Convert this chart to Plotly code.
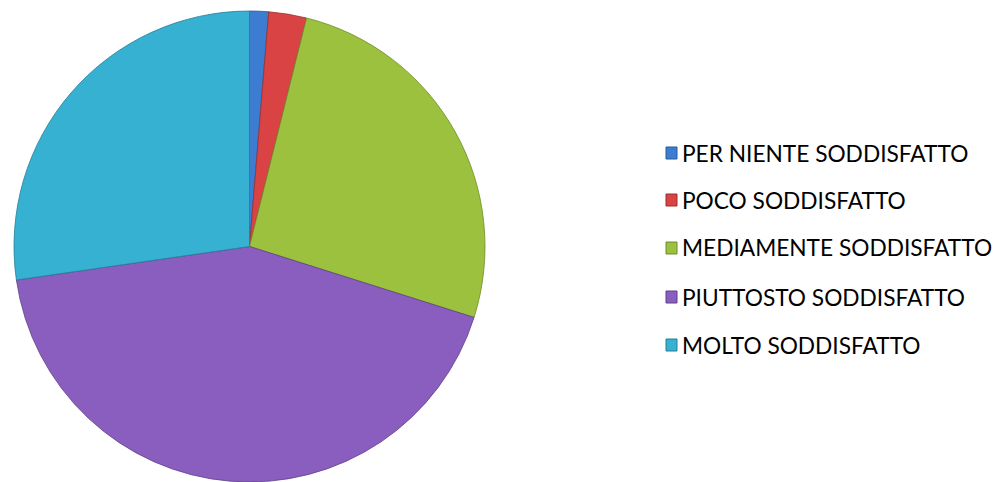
import plotly.graph_objects as go

labels = ["PER NIENTE SODDISFATTO", "POCO SODDISFATTO", "MEDIAMENTE SODDISFATTO",
          "PIUTTOSTO SODDISFATTO", "MOLTO SODDISFATTO"]
values = [1, 2, 20, 33, 21]
colors = ["#3C7DD1", "#D94343", "#9CC13F", "#8A5EBE", "#37B1D1"]
edge_colors = ["#2A5A9A", "#9A2E2E", "#6E8C2A", "#5E3F88", "#237E96"]

W, H = 999, 482
cx, r = 249.5, 236

fig = go.Figure()
fig.add_trace(go.Pie(
    labels=labels, values=values, sort=False, direction="clockwise", rotation=0,
    marker=dict(colors=colors, line=dict(color=edge_colors, width=0.8)),
    textinfo="none", hoverinfo="label+value+percent", showlegend=False,
    domain=dict(x=[(cx - r) / W, (cx + r) / W], y=[0, 1 - 11 / H]),
))

# custom legend
rows_y = [153, 200, 248, 297, 345]
shapes = []
annotations = []
for lab, col, ec, yc in zip(labels, colors, edge_colors, rows_y):
    shapes.append(dict(type="rect", xref="paper", yref="paper",
                       x0=666 / W, x1=677 / W, y0=1 - (yc + 6) / H, y1=1 - (yc - 6) / H,
                       fillcolor=col, line=dict(color=ec, width=1)))
    annotations.append(dict(text=lab, xref="paper", yref="paper", x=680 / W, y=1 - yc / H,
                            xanchor="left", yanchor="middle", showarrow=False,
                            font=dict(family="Lato, Carlito, sans-serif", size=22.7, color="#000000")))

fig.update_layout(
    width=W, height=H, margin=dict(l=0, r=0, t=0, b=0),
    paper_bgcolor="white", plot_bgcolor="white",
    shapes=shapes, annotations=annotations,
)
fig.write_html("out.html")
